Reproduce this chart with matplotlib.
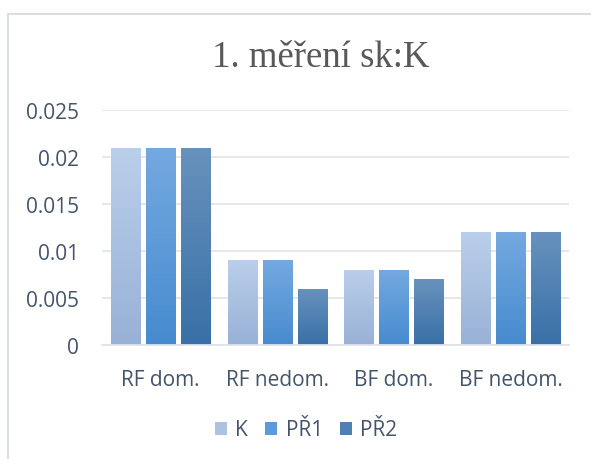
import matplotlib
matplotlib.use("Agg")
import matplotlib.pyplot as plt
import numpy as np
from matplotlib.patches import Rectangle
from matplotlib.colors import LinearSegmentedColormap

categories = ["RF dom.", "RF nedom.", "BF dom.", "BF nedom."]
series_names = ["K", "PŘ1", "PŘ2"]
K = [0.021, 0.009, 0.008, 0.012]
PR1 = [0.021, 0.009, 0.008, 0.012]
PR2 = [0.021, 0.006, 0.007, 0.012]
title = "1. měření sk:K"

series = [K, PR1, PR2]
grad = [("#bacfea", "#98b1d6"), ("#75a9e0", "#468bcf"), ("#6892bd", "#3870a7")]
mid = ["#abc2e3", "#5c9bdb", "#4f80b3"]

fig = plt.figure(figsize=(5.91, 4.6), dpi=100)
fig.patches.append(Rectangle((8/591, -0.05), 1.0, (460-15)/460 + 0.05, transform=fig.transFigure,
                             fill=False, edgecolor="#d9dee4", linewidth=1.5))
ax = fig.add_axes([102/591, 1-346/460, (569-102)/591, (346-111)/460])

x = np.arange(len(categories))
w = 0.25
offs = [-0.30, 0.0, 0.30]
tick_font = "Open Sans"
for i, (vals, off) in enumerate(zip(series, offs)):
    bars = ax.bar(x + off, vals, width=w, color=mid[i], label=series_names[i], zorder=2, linewidth=0)
    cmap = LinearSegmentedColormap.from_list("g%d" % i, [grad[i][1], grad[i][0]])
    for b in bars:
        b.set_facecolor("none")
        bx, by = b.get_x(), b.get_y()
        bw, bh = b.get_width(), b.get_height()
        img = ax.imshow(np.linspace(0, 1, 256).reshape(-1, 1), cmap=cmap, origin="lower",
                        extent=[bx, bx + bw, by, by + bh], aspect="auto", zorder=2)
        img.set_clip_path(b)
ax.set_xlim(-0.5, len(categories) - 0.5)
ax.set_ylim(0, 0.025)
ax.set_yticks([0, 0.005, 0.01, 0.015, 0.02, 0.025])
ax.set_yticklabels(["0", "0.005", "0.01", "0.015", "0.02", "0.025"])
ax.set_xticks(x)
ax.set_xticklabels(categories)
ax.grid(axis="y", color="#e2e6eb", linewidth=1.3, zorder=0)
ax.set_axisbelow(True)
for s in ["top", "right", "left"]:
    ax.spines[s].set_visible(False)
ax.spines["bottom"].set_color("#dfe3e8")
ax.spines["bottom"].set_linewidth(1.3)
ax.tick_params(axis="both", length=0, colors="#44546a", labelsize=15)
ax.tick_params(axis="y", pad=16.5)
ax.tick_params(axis="x", pad=17)
for lbl in ax.get_xticklabels() + ax.get_yticklabels():
    lbl.set_fontfamily(tick_font)
    lbl.set_color("#44546a")

fig.text(321/591, 1-67/460, title, ha="center", va="baseline", fontsize=26.5,
         family="Liberation Serif", color="#595959")

handles = [Rectangle((0, 0), 1, 1, facecolor=mid[i], edgecolor="none") for i in range(3)]
leg = fig.legend(handles, series_names, loc="center", bbox_to_anchor=(306/591, 1-431/460),
                 ncol=3, frameon=False, handlelength=0.6, handleheight=0.6, handletextpad=0.4,
                 columnspacing=0.8, prop={"family": tick_font, "size": 15})
for t in leg.get_texts():
    t.set_color("#44546a")

fig.savefig("out.png", dpi=100)
